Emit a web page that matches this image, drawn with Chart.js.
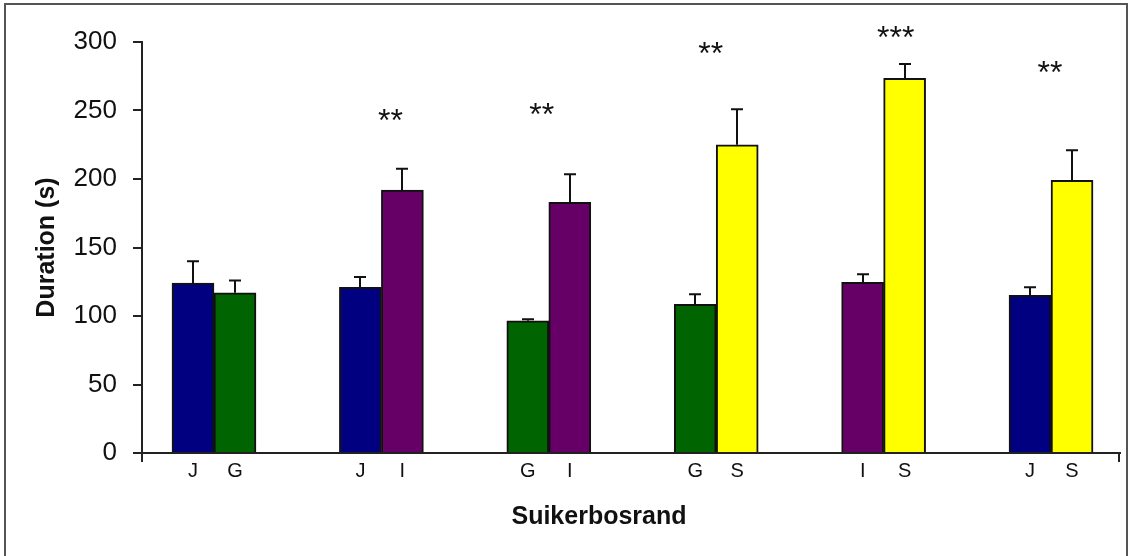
<!DOCTYPE html>
<html>
<head>
<meta charset="utf-8">
<script src="https://cdn.jsdelivr.net/npm/chart.js@4.4.1/dist/chart.umd.min.js"></script>
<style>
  html, body { margin: 0; padding: 0; background: #fff; }
  canvas { display: block; }
</style>
</head>
<body>
<canvas id="chart" width="1133" height="556"></canvas>
<script>
// Paired comparisons of duration at Suikerbosrand (mean + SE)
const leftLabels   = ['J', 'J', 'G', 'G', 'I', 'J'];
const rightLabels  = ['G', 'I', 'I', 'S', 'S', 'S'];
const leftValues   = [124, 121, 96.5, 108.5, 124.5, 115];
const leftErrors   = [16, 7.5, 1.2, 7.3, 6, 6];
const rightValues  = [117, 192, 183, 225, 273.5, 199];
const rightErrors  = [9, 15.5, 20.5, 26, 10.5, 22];
const significance = ['', '**', '**', '**', '***', '**'];
const sigOffsets   = [0, 0.054, -0.042, -0.033, 0.072, -0.006];
const sigValues    = [0, 247, 251, 295.5, 307, 281.5];
const yTicks       = [0, 50, 100, 150, 200, 250, 300];
const yTitle = 'Duration (s)';
const xTitle = 'Suikerbosrand';

const siteColors = { J: '#000080', G: '#006400', I: '#660066', S: '#ffff00' };
const FONT = "'Liberation Sans', Arial, sans-serif";
const INK = '#111';

// bar centre offset (in category units) for the left / right bar of a pair
const HALF = 0.125;
const tickPositions = [];
const tickTexts = [];
leftLabels.forEach((l, i) => {
  tickPositions.push(i - HALF); tickTexts.push(l);
  tickPositions.push(i + HALF); tickTexts.push(rightLabels[i]);
});

const framePlugin = {
  id: 'frame',
  beforeDraw(chart) {
    const { ctx, width, height } = chart;
    ctx.save();
    ctx.fillStyle = '#fff';
    ctx.fillRect(0, 0, width, height);
    ctx.strokeStyle = '#555';
    ctx.lineWidth = 2;
    ctx.beginPath();
    ctx.moveTo(5, height + 2);
    ctx.lineTo(5, 4);
    ctx.lineTo(1127, 4);
    ctx.lineTo(1127, height + 2);
    ctx.stroke();
    ctx.restore();
  }
};

const errorBarPlugin = {
  id: 'errorBars',
  afterDatasetsDraw(chart) {
    const { ctx } = chart;
    const yScale = chart.scales.y;
    ctx.save();
    ctx.strokeStyle = INK;
    ctx.lineWidth = 2;
    chart.data.datasets.forEach((ds, di) => {
      const meta = chart.getDatasetMeta(di);
      meta.data.forEach((bar, i) => {
        const v = ds.data[i].y;
        const e = ds.errors[i];
        const yTop = yScale.getPixelForValue(v + e);
        const x = Math.round(bar.x);
        ctx.beginPath();
        ctx.moveTo(x, bar.y);
        ctx.lineTo(x, yTop);
        ctx.moveTo(x - 6, yTop);
        ctx.lineTo(x + 6, yTop);
        ctx.stroke();
      });
    });
    ctx.restore();
  }
};

const annotationPlugin = {
  id: 'annotations',
  afterDraw(chart) {
    const { ctx, chartArea } = chart;
    const xs = chart.scales.x, ys = chart.scales.y;
    ctx.save();
    // axis end marks
    ctx.strokeStyle = '#222';
    ctx.lineWidth = 2;
    ctx.beginPath();
    ctx.moveTo(chartArea.left, chartArea.bottom);
    ctx.lineTo(chartArea.left, chartArea.bottom + 9);
    ctx.moveTo(chartArea.right - 1, chartArea.bottom);
    ctx.lineTo(chartArea.right - 1, chartArea.bottom + 9);
    ctx.stroke();

    // significance stars
    ctx.fillStyle = INK;
    ctx.font = '32px ' + FONT;
    ctx.textAlign = 'center';
    ctx.textBaseline = 'alphabetic';
    const m = ctx.measureText('*');
    const shift = (m.actualBoundingBoxAscent - m.actualBoundingBoxDescent) / 2;
    const pitch = 12.5;
    significance.forEach((s, i) => {
      if (!s) return;
      const cx = xs.getPixelForValue(i + sigOffsets[i]);
      const cy = ys.getPixelForValue(sigValues[i]) + shift;
      for (let k = 0; k < s.length; k++) {
        ctx.fillText('*', cx + (k - (s.length - 1) / 2) * pitch, cy);
      }
    });

    // category axis title
    ctx.font = 'bold 25px ' + FONT;
    ctx.textBaseline = 'middle';
    ctx.fillText(xTitle, 599, 517);
    ctx.restore();
  }
};

new Chart(document.getElementById('chart'), {
  type: 'bar',
  data: {
    datasets: [
      {
        data: leftValues.map((v, i) => ({ x: i, y: v })),
        errors: leftErrors,
        backgroundColor: leftLabels.map(l => siteColors[l]),
        borderColor: INK,
        borderWidth: 2
      },
      {
        data: rightValues.map((v, i) => ({ x: i, y: v })),
        errors: rightErrors,
        backgroundColor: rightLabels.map(l => siteColors[l]),
        borderColor: INK,
        borderWidth: 2
      }
    ]
  },
  options: {
    responsive: false,
    animation: false,
    barThickness: 42,
    layout: { padding: { left: 0, top: 42, right: 13, bottom: 0 } },
    plugins: { legend: { display: false }, tooltip: { enabled: false } },
    scales: {
      x: {
        type: 'linear',
        offset: false,
        bounds: 'data',
        min: -0.43,
        max: 5.412,
        grid: { display: false, drawTicks: false },
        border: { display: true, color: '#222', width: 2 },
        afterBuildTicks: scale => { scale.ticks = tickPositions.map(v => ({ value: v })); },
        afterFit: scale => { scale.height = 103; },
        ticks: {
          autoSkip: false,
          maxRotation: 0,
          minRotation: 0,
          padding: 6,
          color: INK,
          font: { family: FONT, size: 20 },
          callback: (value, index) => tickTexts[index]
        }
      },
      y: {
        min: 0,
        max: 300,
        afterBuildTicks: scale => { scale.ticks = yTicks.map(v => ({ value: v })); },
        afterFit: scale => { scale.width = 142; },
        grid: { drawOnChartArea: false, drawTicks: true, tickLength: 9, color: '#222', lineWidth: 2 },
        border: { display: true, color: '#222', width: 2 },
        ticks: {
          padding: 16,
          color: INK,
          font: { family: FONT, size: 26 }
        },
        title: {
          display: true,
          text: yTitle,
          color: INK,
          font: { family: FONT, size: 25, weight: 'bold' },
          padding: { top: 32, bottom: 0 }
        }
      }
    }
  },
  plugins: [framePlugin, errorBarPlugin, annotationPlugin]
});
</script>
</body>
</html>
